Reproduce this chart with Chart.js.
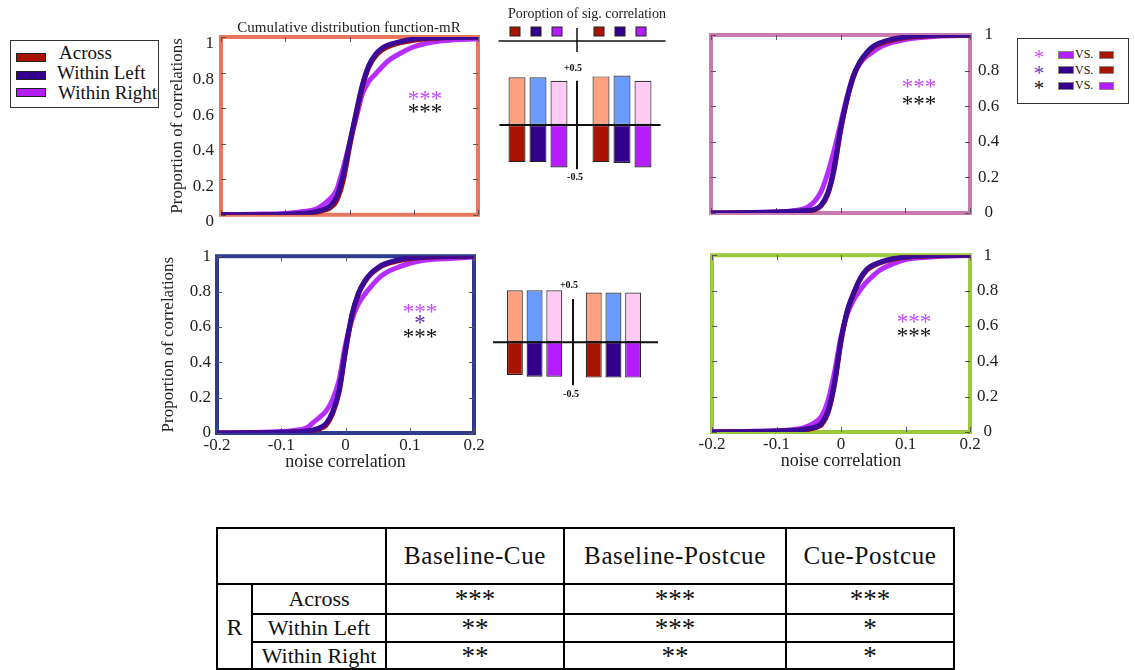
<!DOCTYPE html>
<html>
<head>
<meta charset="utf-8">
<title>Noise correlation CDFs</title>
<script src="https://cdn.jsdelivr.net/npm/chart.js@4.4.1/dist/chart.umd.min.js"></script>
<style>
  body { margin: 0; background: #fff; }
  #fig { position: relative; width: 1135px; height: 670px; overflow: hidden;
         font-family: "Liberation Serif", "Times New Roman", serif; color: #222; }
  .abs { position: absolute; }
  canvas { position: absolute; }
  .ttl { position: absolute; white-space: nowrap; transform: translate(-50%, -50%); line-height: 1; }
  .stars { position: absolute; white-space: nowrap; transform: translate(-50%, -50%);
           font-size: 23px; line-height: 1; }
  .legbox { position: absolute; border: 1px solid #333; background: #fff; }
  .legbox .sw { position: absolute; border: 1px solid #222; box-sizing: border-box; }
  .legbox .tx { position: absolute; white-space: nowrap; line-height: 20px; font-size: 19px; color: #111; }
  .legbox .st { position: absolute; transform: translate(-50%, -50%); font-size: 21px; line-height: 1; }
  .legbox .vs { position: absolute; font-size: 12px; line-height: 12px; color: #111; }
  #sigTable { position: absolute; left: 216px; top: 527px; border-collapse: collapse; table-layout: fixed;
              width: 737px; color: #111; }
  #sigTable td, #sigTable th { border: 2px solid #000; padding: 0; text-align: center; font-weight: normal; }
  #sigTable th { font-size: 25px; letter-spacing: 0.6px; }
  #sigTable td { font-size: 22px; line-height: 24px; }
  #sigTable td.sig { font-size: 27px; }
</style>
</head>
<body>
<div id="fig">
  <canvas id="cdfTopLeft" width="345" height="215" style="left:150px;top:17px"></canvas>
  <canvas id="cdfTopRight" width="330" height="220" style="left:690px;top:15px"></canvas>
  <canvas id="cdfBottomLeft" width="345" height="240" style="left:145px;top:240px"></canvas>
  <canvas id="cdfBottomRight" width="330" height="242" style="left:690px;top:238px"></canvas>
  <canvas id="sigTop" width="200" height="200" style="left:490px;top:0px"></canvas>
  <canvas id="sigBottom" width="200" height="140" style="left:480px;top:270px"></canvas>

  <div class="ttl" style="left:349px;top:27px;font-size:15px;">Cumulative distribution function-mR</div>
  <div class="ttl" style="left:587px;top:14px;font-size:14px;">Poroption of sig. correlation</div>

  <!-- significance marks inside the panels -->
  <div class="stars" style="left:425px;top:98px;color:#c44dff">***</div>
  <div class="stars" style="left:425px;top:111px;color:#111">***</div>
  <div class="stars" style="left:919px;top:86px;color:#c44dff">***</div>
  <div class="stars" style="left:919px;top:103px;color:#111">***</div>
  <div class="stars" style="left:420px;top:311px;color:#c44dff">***</div>
  <div class="stars" style="left:420px;top:322px;color:#5b2fb0">*</div>
  <div class="stars" style="left:420px;top:336px;color:#111">***</div>
  <div class="stars" style="left:914px;top:321px;color:#c44dff">***</div>
  <div class="stars" style="left:914px;top:335px;color:#111">***</div>

  <div id="legendSeries" class="legbox" style="left:10px;top:40px;width:147px;height:66px;"></div>
  <div id="legendPairs" class="legbox" style="left:1017px;top:38px;width:110px;height:64px;"></div>

  <table id="sigTable"></table>
</div>

<script>
// ---- data ----
const noiseCorr = [-0.2, -0.15, -0.1, -0.08, -0.06, -0.05, -0.04, -0.03, -0.02, -0.01, 0,
                   0.01, 0.02, 0.03, 0.04, 0.05, 0.06, 0.08, 0.1, 0.12, 0.15, 0.2];

const seriesNames = ['Across', 'Within Left', 'Within Right'];

// cumulative proportion of correlations at each noiseCorr value
const topLeftAcross  = [0, 0, 0.003, 0.005, 0.01, 0.016, 0.025, 0.04, 0.08, 0.19, 0.38, 0.56, 0.72, 0.83, 0.89, 0.925, 0.945, 0.968, 0.982, 0.99, 0.996, 1];
const topLeftLeft    = [0, 0, 0.003, 0.006, 0.012, 0.02, 0.03, 0.05, 0.10, 0.22, 0.40, 0.57, 0.73, 0.84, 0.90, 0.935, 0.955, 0.975, 0.988, 0.993, 0.997, 1];
const topLeftRight   = [0, 0.003, 0.008, 0.015, 0.025, 0.035, 0.06, 0.09, 0.14, 0.26, 0.40, 0.54, 0.68, 0.75, 0.79, 0.83, 0.865, 0.91, 0.945, 0.965, 0.98, 0.99];

const topRightAcross = [0, 0.002, 0.004, 0.007, 0.01, 0.013, 0.018, 0.04, 0.10, 0.24, 0.46, 0.635, 0.765, 0.845, 0.895, 0.93, 0.95, 0.972, 0.985, 0.992, 0.997, 1];
const topRightLeft   = [0, 0.002, 0.005, 0.008, 0.012, 0.015, 0.02, 0.045, 0.11, 0.25, 0.47, 0.64, 0.77, 0.85, 0.90, 0.935, 0.955, 0.977, 0.988, 0.994, 0.998, 1];
const topRightRight  = [0, 0.002, 0.006, 0.01, 0.02, 0.035, 0.065, 0.12, 0.22, 0.35, 0.50, 0.65, 0.775, 0.84, 0.88, 0.905, 0.93, 0.958, 0.975, 0.985, 0.993, 0.998];

const bottomLeftAcross = [0, 0.001, 0.003, 0.006, 0.01, 0.015, 0.025, 0.045, 0.11, 0.23, 0.46, 0.66, 0.785, 0.855, 0.90, 0.93, 0.95, 0.972, 0.986, 0.993, 0.997, 1];
const bottomLeftLeft   = [0, 0.001, 0.004, 0.007, 0.012, 0.018, 0.03, 0.055, 0.12, 0.24, 0.47, 0.67, 0.79, 0.86, 0.905, 0.935, 0.955, 0.978, 0.99, 0.995, 0.998, 1];
const bottomLeftRight  = [0, 0.002, 0.008, 0.015, 0.03, 0.06, 0.09, 0.125, 0.19, 0.30, 0.50, 0.64, 0.73, 0.785, 0.83, 0.87, 0.90, 0.935, 0.96, 0.975, 0.985, 0.995];

const bottomRightAcross = [0, 0.002, 0.004, 0.007, 0.011, 0.016, 0.024, 0.042, 0.11, 0.27, 0.51, 0.685, 0.785, 0.865, 0.915, 0.94, 0.957, 0.977, 0.988, 0.994, 0.997, 1];
const bottomRightLeft   = [0, 0.002, 0.005, 0.008, 0.013, 0.02, 0.028, 0.05, 0.12, 0.28, 0.52, 0.69, 0.79, 0.87, 0.92, 0.945, 0.96, 0.98, 0.99, 0.995, 0.998, 1];
const bottomRightRight  = [0, 0.003, 0.007, 0.012, 0.022, 0.035, 0.055, 0.09, 0.18, 0.34, 0.54, 0.67, 0.75, 0.805, 0.85, 0.885, 0.915, 0.95, 0.975, 0.985, 0.993, 0.998];

// proportion of significant correlations (positive above, negative below)
const sigSlots = ['Across', 'Within Left', 'Within Right', '', 'Across', 'Within Left', 'Within Right'];
const sigTopPositive    = [0.54, 0.54, 0.50, null, 0.55, 0.56, 0.50];
const sigTopNegative    = [-0.42, -0.42, -0.48, null, -0.42, -0.43, -0.48];
const sigBottomPositive = [0.60, 0.60, 0.60, null, 0.575, 0.575, 0.575];
const sigBottomNegative = [-0.38, -0.40, -0.40, null, -0.41, -0.41, -0.41];

// significance of pairwise comparisons between epochs
const tableEpochs = ['Baseline-Cue', 'Baseline-Postcue', 'Cue-Postcue'];
const tableGroup  = 'R';
const tableSig = [
  ['***', '***', '***'],
  ['**',  '***', '*'],
  ['**',  '**',  '*']
];

// ---- styles ----
const SERIF = '"Liberation Serif", "Times New Roman", serif';
const lineColor = { 'Across': '#a80e00', 'Within Left': '#3a0a98', 'Within Right': '#b62dff' };
const darkFill  = { 'Across': '#a81400', 'Within Left': '#33008c', 'Within Right': '#b51dfd' };
const lightFill = { 'Across': '#ffa07e', 'Within Left': '#6a9bff', 'Within Right': '#ffcaf3' };

const fmt = v => String(Number(v.toFixed(2)));

// thick coloured frame with small inward ticks
const framePlugin = {
  id: 'frame',
  beforeDatasetsDraw(chart, args, opts) {
    const { ctx, chartArea: a, scales: { x, y } } = chart;
    ctx.save();
    ctx.strokeStyle = opts.color;
    ctx.lineWidth = 4;
    ctx.strokeRect(a.left, a.top, a.right - a.left, a.bottom - a.top);
    ctx.strokeStyle = '#555';
    ctx.lineWidth = 1;
    ctx.beginPath();
    x.ticks.forEach(t => {
      const px = Math.round(x.getPixelForValue(t.value)) + 0.5;
      ctx.moveTo(px, a.top); ctx.lineTo(px, a.top + 5);
      ctx.moveTo(px, a.bottom); ctx.lineTo(px, a.bottom - 5);
    });
    y.ticks.forEach(t => {
      const py = Math.round(y.getPixelForValue(t.value)) + 0.5;
      ctx.moveTo(a.left, py); ctx.lineTo(a.left + 5, py);
      ctx.moveTo(a.right, py); ctx.lineTo(a.right - 5, py);
    });
    ctx.stroke();
    ctx.restore();
  }
};

function makeCdf(id, across, left, right, o) {
  const pts = arr => noiseCorr.map((x, i) => ({ x, y: arr[i] }));
  const ds = (name, arr, order) => ({
    label: name, data: pts(arr), borderColor: lineColor[name], order
  });
  return new Chart(document.getElementById(id), {
    type: 'line',
    data: {
      datasets: [
        ds('Within Left', left, 0),
        ds('Across', across, 1),
        ds('Within Right', right, 2)
      ]
    },
    options: {
      responsive: false,
      animation: false,
      devicePixelRatio: 1,
      layout: { padding: o.padding },
      elements: {
        point: { radius: 0 },
        line: { borderWidth: 5, cubicInterpolationMode: 'monotone', fill: false,
                borderCapStyle: 'round', borderJoinStyle: 'round' }
      },
      plugins: { legend: { display: false }, tooltip: { enabled: false }, frame: { color: o.frame } },
      scales: {
        x: {
          type: 'linear', min: -0.2, max: 0.2, position: 'bottom',
          grid: { display: false, drawTicks: false }, border: { display: false },
          ticks: { display: o.xLabels, stepSize: 0.1, padding: 2, maxRotation: 0, autoSkip: false,
                   color: '#222', font: { family: SERIF, size: 17 }, callback: v => fmt(v) },
          title: { display: o.xLabels, text: 'noise correlation', color: '#222',
                   font: { family: SERIF, size: 18 }, padding: { top: 0, bottom: 2.4 } },
          afterFit: s => { s.height = o.xHeight; }
        },
        y: {
          type: 'linear', min: 0, max: 1, position: o.ySide,
          grid: { display: false, drawTicks: false }, border: { display: false },
          ticks: { stepSize: 0.2, padding: o.yPad, autoSkip: false, labelOffset: o.yLabelOffset || 0,
                   crossAlign: o.ySide === 'right' ? 'center' : 'near',
                   color: '#222', font: { family: SERIF, size: 17 }, callback: v => fmt(v) },
          title: { display: o.yTitle, text: 'Proportion of correlations', color: '#222',
                   font: { family: SERIF, size: 17 }, padding: { top: o.yTitlePad || 0, bottom: 0 } },
          afterFit: s => { s.width = o.yWidth; }
        }
      }
    },
    plugins: [framePlugin]
  });
}

makeCdf('cdfTopLeft', topLeftAcross, topLeftLeft, topLeftRight, {
  padding: { left: 0, top: 20, right: 17, bottom: 17 }, frame: '#e8775e',
  xLabels: false, xHeight: 0, ySide: 'left', yWidth: 71, yPad: 7, yLabelOffset: 7,
  yTitle: true, yTitlePad: 17.4
});
makeCdf('cdfTopRight', topRightAcross, topRightLeft, topRightRight, {
  padding: { left: 21, top: 20, right: 0, bottom: 22 }, frame: '#c97aae',
  xLabels: false, xHeight: 0, ySide: 'right', yWidth: 50, yPad: 8, yTitle: false
});
makeCdf('cdfBottomLeft', bottomLeftAcross, bottomLeftLeft, bottomLeftRight, {
  padding: { left: 0, top: 13, right: 16, bottom: 5 }, frame: '#2e3b91',
  xLabels: true, xHeight: 42, ySide: 'left', yWidth: 72, yPad: 6, yTitle: true, yTitlePad: 13.4
});
makeCdf('cdfBottomRight', bottomRightAcross, bottomRightLeft, bottomRightRight, {
  padding: { left: 22, top: 12, right: 0, bottom: 6 }, frame: '#9cc93e',
  xLabels: true, xHeight: 42, ySide: 'right', yWidth: 50, yPad: 7, yTitle: false
});

// zero line, central axis with ±0.5 marks and (optionally) the colour key row
const sigAxesPlugin = {
  id: 'sigAxes',
  afterDatasetsDraw(chart, args, o) {
    const { ctx, chartArea: a, scales: { x, y } } = chart;
    const cx = x.getPixelForValue(3) - o.axisShift;
    ctx.save();
    ctx.strokeStyle = '#111';
    ctx.lineWidth = 2;
    ctx.beginPath();
    ctx.moveTo(a.left - o.zeroExt[0], y.getPixelForValue(0));
    ctx.lineTo(a.right + o.zeroExt[1], y.getPixelForValue(0));
    ctx.moveTo(cx, y.getPixelForValue(0.5));
    ctx.lineTo(cx, y.getPixelForValue(-0.5));
    ctx.stroke();
    ctx.fillStyle = '#111';
    ctx.font = 'bold 10px ' + SERIF;
    ctx.textAlign = 'center';
    ctx.textBaseline = 'middle';
    ctx.fillText('+0.5', cx - 4, y.getPixelForValue(0.5) - o.labelGap[0]);
    ctx.fillText('-0.5', cx - 2, y.getPixelForValue(-0.5) + o.labelGap[1]);
    if (o.keyRow) {
      const ky = o.keyRow;
      ctx.lineWidth = 1.5;
      ctx.beginPath();
      ctx.moveTo(a.left - 8, ky + 9);
      ctx.lineTo(a.right + 12, ky + 9);
      ctx.moveTo(cx, ky - 4);
      ctx.lineTo(cx, ky + 20);
      ctx.stroke();
      sigSlots.forEach((name, i) => {
        if (!name) return;
        const px = x.getPixelForValue(i) - 2;
        ctx.fillStyle = darkFill[name];
        ctx.fillRect(px - 5, ky - 5, 10, 9);
        ctx.lineWidth = 1;
        ctx.strokeStyle = '#222';
        ctx.strokeRect(px - 5, ky - 5, 10, 9);
      });
    }
    ctx.restore();
  }
};

function makeSig(id, pos, neg, o) {
  const fills = (arr, pal) => arr.map((v, i) => (sigSlots[i] ? pal[sigSlots[i]] : 'transparent'));
  return new Chart(document.getElementById(id), {
    type: 'bar',
    data: {
      labels: sigSlots,
      datasets: [
        { data: pos, backgroundColor: fills(pos, lightFill), borderColor: '#3a3a3a', borderWidth: 1.2,
          borderSkipped: false, barPercentage: 0.81, categoryPercentage: 1 },
        { data: neg, backgroundColor: fills(neg, darkFill), borderColor: '#222', borderWidth: 1.2,
          borderSkipped: false, barPercentage: 0.81, categoryPercentage: 1 }
      ]
    },
    options: {
      responsive: false,
      animation: false,
      devicePixelRatio: 1,
      layout: { padding: o.padding },
      scales: {
        x: { stacked: true, display: false },
        y: { stacked: true, display: false, min: o.yMin, max: o.yMax }
      },
      plugins: { legend: { display: false }, tooltip: { enabled: false }, sigAxes: o.axes }
    },
    plugins: [sigAxesPlugin]
  });
}

makeSig('sigTop', sigTopPositive, sigTopNegative, {
  padding: { left: 16.5, right: 36.5, top: 72, bottom: 22 }, yMin: -0.6, yMax: 0.6,
  axes: { axisShift: 3, zeroExt: [7, 7], labelGap: [12, 8], keyRow: 32 }
});
makeSig('sigBottom', sigBottomPositive, sigBottomNegative, {
  padding: { left: 25, right: 37, top: 16, bottom: 16 }, yMin: -0.6, yMax: 0.65,
  axes: { axisShift: 1, zeroExt: [12, 15], labelGap: [14, 9], keyRow: 0 }
});

// ---- legends ----
const legS = document.getElementById('legendSeries');
const legRows = [
  { sw: 12, tx: 12, left: 48 },
  { sw: 29.5, tx: 32, left: 46 },
  { sw: 47, tx: 52, left: 47 }
];
seriesNames.forEach((name, i) => {
  const r = legRows[i];
  const sw = document.createElement('div');
  sw.className = 'sw';
  sw.style.cssText = `left:5px;top:${r.sw}px;width:30px;height:9px;background:${darkFill[name]}`;
  legS.appendChild(sw);
  const tx = document.createElement('div');
  tx.className = 'tx';
  tx.style.cssText = `left:${r.left}px;top:${r.tx - 10}px`;
  tx.textContent = name;
  legS.appendChild(tx);
});

const legendPairs = [
  { mark: '#c95cff', a: 'Within Right', b: 'Across' },
  { mark: '#6a3bc4', a: 'Within Left',  b: 'Across' },
  { mark: '#111',    a: 'Within Left',  b: 'Within Right' }
];
const legP = document.getElementById('legendPairs');
[15, 30.5, 46].forEach((cy, i) => {
  const p = legendPairs[i];
  legP.insertAdjacentHTML('beforeend',
    `<div class="st" style="left:21px;top:${cy + 3}px;color:${p.mark}">*</div>` +
    `<div class="sw" style="left:40px;top:${cy - 3.5}px;width:16px;height:8px;background:${darkFill[p.a]};border-color:#888"></div>` +
    `<div class="vs" style="left:57px;top:${cy - 6}px">VS.</div>` +
    `<div class="sw" style="left:81px;top:${cy - 3.5}px;width:15px;height:8px;background:${darkFill[p.b]};border-color:#888"></div>`);
});

// ---- table ----
const tbl = document.getElementById('sigTable');
let html = '<colgroup><col style="width:35px"><col style="width:134px"><col style="width:178px">' +
           '<col style="width:222px"><col style="width:168px"></colgroup>';
html += '<tr style="height:56px"><td colspan="2"></td>' + tableEpochs.map(e => `<th>${e}</th>`).join('') + '</tr>';
const rowH = [30, 28, 27];
seriesNames.forEach((name, i) => {
  html += `<tr style="height:${rowH[i]}px">`;
  if (i === 0) html += `<td rowspan="3" style="font-size:24px">${tableGroup}</td>`;
  html += `<td>${name}</td>` + tableSig[i].map(s => `<td class="sig">${s}</td>`).join('') + '</tr>';
});
tbl.innerHTML = html;
</script>
</body>
</html>
